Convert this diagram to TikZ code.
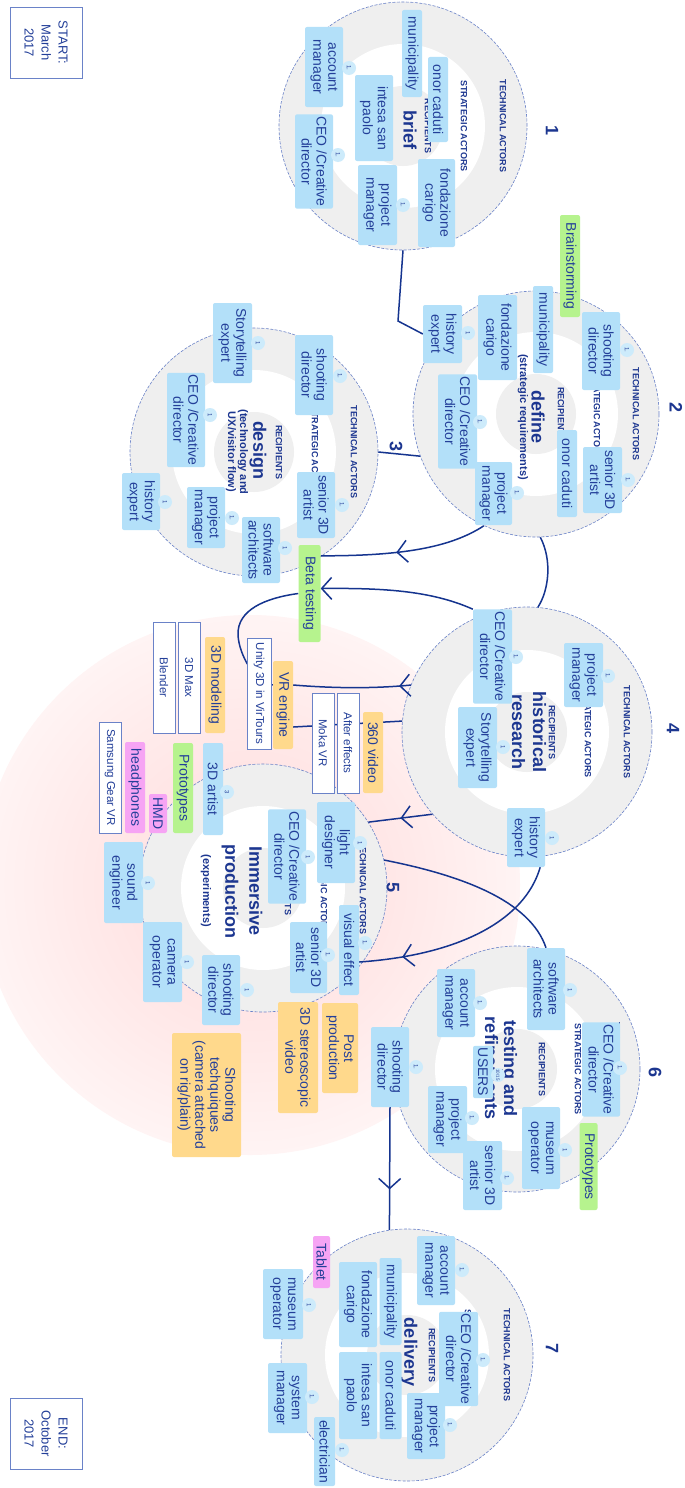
\documentclass[tikz,border=0pt]{standalone}
\usepackage{fontspec}
\setmainfont{Liberation Sans}
\usetikzlibrary{arrows.meta,decorations.markings,calc}
\definecolor{ringgray}{HTML}{EFEFEF}
\definecolor{boxblue}{HTML}{B3E0F9}
\definecolor{badgeblue}{HTML}{CDEBFB}
\definecolor{txtblue}{HTML}{233F99}
\definecolor{titleblue}{HTML}{1C3690}
\definecolor{linkblue}{HTML}{15348F}
\definecolor{rimblue}{HTML}{6A82C8}
\definecolor{greenbox}{HTML}{B6F38E}
\definecolor{orangebox}{HTML}{FFD98C}
\definecolor{pinkbox}{HTML}{F6A4F4}
\definecolor{glowA}{HTML}{FFDADA}
\definecolor{glowB}{HTML}{FFEAEA}
\pgfdeclareradialshading{pinkglow}{\pgfpoint{0bp}{0bp}}{color(0bp)=(glowA);color(16bp)=(glowB);color(35bp)=(white);color(50bp)=(white)}
\pgfdeclarelayer{bg}
\pgfdeclarelayer{conn}
\pgfsetlayers{bg,conn,main}
\newcommand\ringlabels[3]{%
  \node[lab] (#1t) at (#2+100,#3) {TECHNICAL ACTORS};
  \node[lab] (#1s) at (#2+61,#3) {STRATEGIC ACTORS};
  \node[lab] (#1r) at (#2+25,#3) {RECIPIENTS};}
\begin{document}
\begin{tikzpicture}[x=1pt,y=-1pt,
  ring/.style={circle, inner sep=0pt, fill=ringgray, draw=rimblue, line width=0.6pt, dash pattern=on 3pt off 1.5pt, minimum size=#1},
  hole/.style={circle, inner sep=0pt, fill=white, minimum size=164pt},
  core/.style={circle, inner sep=0pt, fill=ringgray, minimum size=80pt},
  lab/.style={rotate=-90, text=titleblue, font=\bfseries\fontsize{9}{10}\selectfont, inner sep=0pt},
  ttl/.style={rotate=-90, text=titleblue, align=center, font=\bfseries\fontsize{18}{21}\selectfont, inner sep=0pt},
  sub/.style={rotate=-90, text=titleblue, align=center, font=\bfseries\fontsize{11}{12}\selectfont, inner sep=0pt},
  abox/.style={rotate=-90, fill=boxblue, rounded corners=2pt, align=center, inner xsep=2pt, inner ysep=2pt, text=txtblue, font=\fontsize{14}{15}\selectfont},
  gbox/.style={abox, fill=greenbox},
  obox/.style={abox, fill=orangebox},
  pbox/.style={abox, fill=pinkbox},
  wbox/.style={abox, fill=white, draw=rimblue, line width=0.8pt, rounded corners=0pt, font=\fontsize{11.5}{13}\selectfont},
  sz/.style 2 args={minimum width=#1pt, minimum height=#2pt},
  badge/.style={circle, fill=badgeblue, minimum size=14pt, inner sep=0pt, rotate=-90, text=txtblue, font=\fontsize{6}{6}\selectfont},
  num/.style={rotate=-90, text=titleblue, font=\bfseries\fontsize{18}{18}\selectfont},
  datebox/.style={rotate=-90, draw=rimblue, fill=white, line width=0.7pt, align=center, text=txtblue, font=\fontsize{13}{17}\selectfont, minimum width=71pt, minimum height=72pt},
  link/.style={draw=linkblue, line width=1.5pt},
  midarrow/.style={postaction={decorate, decoration={markings, mark=at position #1 with {\arrow{Straight Barb[length=10pt,width=22pt]}}}}}
]
\path[use as bounding box] (0,0) rectangle (685,1488);

\begin{pgfonlayer}{bg}
\fill[white] (0,0) rectangle (685,1488);
\shade[shading=pinkglow] (250,885) circle[radius=270];
% circles
\node[ring=248pt] (c1) at (403,126) {};
\node[hole] (c1h) at (c1) {};
\node[core] (c1c) at (c1) {};
\node[ring=246pt] (c2) at (536,414) {};
\node[hole] (c2h) at (c2) {};
\node[core] (c2c) at (c2) {};
\node[ring=248pt] (c3) at (254,452) {};
\node[hole] (c3h) at (c3) {};
\node[core] (c3c) at (c3) {};
\node[ring=250pt] (c4) at (527,732) {};
\node[hole] (c4h) at (c4) {};
\node[core] (c4c) at (c4) {};
\node[ring=248pt] (c5) at (263,888) {};
\node[hole] (c5h) at (c5) {};
\node[core] (c5c) at (c5) {};
\node[ring=246pt] (c6) at (517,1069) {};
\node[hole] (c6h) at (c6) {};
\node[core] (c6c) at (c6) {};
\node[ring=252pt] (c7) at (407,1355) {};
\node[hole] (c7h) at (c7) {};
\node[core] (c7c) at (c7) {};
% ring labels
\ringlabels{c1l}{403}{126}
\ringlabels{c2l}{536}{414}
\ringlabels{c3l}{254}{452}
\ringlabels{c4l}{527}{732}
\ringlabels{c5l}{263}{888}
\ringlabels{c6l}{517}{1069}
\ringlabels{c7l}{407}{1355}
% titles
\node[ttl] (c1title) at (410,130) {brief};
\node[ttl] (c2title) at (538,417) {define};
\node[sub] (c2sub) at (523,417) {(strategic requirements)};
\node[ttl] (c3title) at (258,450) {design};
\node[sub] (c3sub) at (237,452) {(technology and\\UX/visitor flow)};
\node[ttl] (c4title) at (529,732) {historical\\research};
\node[ttl, font=\bfseries\fontsize{18}{24}\selectfont] (c5title) at (242,891) {Immersive\\production};
\node[sub] (c5sub) at (206,891) {(experiments)};
\node[ttl, font=\bfseries\fontsize{18}{19}\selectfont] (c6title) at (501,1068) {testing and\\refinements};
\node[ttl] (c7title) at (409,1352) {delivery};
\end{pgfonlayer}

% dates
\node[datebox] (start) at (46,42.5) {START:\\March\\2017};
\node[datebox] (end) at (46,1433.5) {END:\\October\\2017};

% numbers
\node[num] (k1) at (552,131) {1};
\node[num] (k2) at (676,408) {2};
\node[num] (k3) at (396,447) {3};
\node[num] (k4) at (673,728) {4};
\node[num] (k5) at (393,887) {5};
\node[num] (k6) at (655,1072) {6};
\node[num] (k7) at (552,1348) {7};

% circle 1
\node[abox, sz={87}{20}] (c1mun) at (412,53.5) {municipality};
\node[abox, sz={85}{20}] (c1oc) at (438,99.5) {onor caduti};
\node[abox, sz={80}{38}] (c1am) at (324,67) {account\\manager};
\node[badge] (c1amb) at (349,68) {1.};
\node[abox, sz={86}{38}] (c1isp) at (374,118) {intesa san\\paolo};
\node[abox, sz={93}{38}] (c1ceo) at (314,161.5) {CEO /Creative\\director};
\node[badge] (c1ceob) at (338,155) {1.};
\node[abox, sz={80}{39}] (c1pm) at (377.5,205) {project\\manager};
\node[badge] (c1pmb) at (403,205) {1.};
\node[abox, sz={88}{37}] (c1fc) at (436.5,203) {fondazione\\carigo};

% circle 2
\node[gbox, sz={102}{20}] (bs) at (570,266) {Brainstorming};
\node[abox, sz={78}{38}] (c2sd) at (601,351) {shooting\\director};
\node[badge] (c2sdb) at (627,350) {1.};
\node[abox, sz={87}{20}] (c2mun) at (543,329.5) {municipality};
\node[abox, sz={85}{39}] (c2fc) at (497.5,337.5) {fondazione\\carigo};
\node[abox, sz={58}{39}] (c2he) at (442.5,334) {history\\expert};
\node[badge] (c2heb) at (468,333) {1};
\node[abox, sz={93}{39}] (c2ceo) at (457.5,421.5) {CEO /Creative\\director};
\node[badge] (c2ceob) at (480,422) {1.};
\node[abox, sz={66}{39}] (c2sa) at (602.5,480) {senior 3D\\artist};
\node[badge] (c2sab) at (628,480) {1.};
\node[abox, sz={87}{20}] (c2oc) at (567,473.5) {onor caduti};
\node[abox, sz={63}{37}] (c2pm) at (493.5,493.5) {project\\manager};
\node[badge] (c2pmb) at (517,493) {1.};

% circle 3
\node[abox, sz={80}{39}] (c3se) at (232.5,343) {Storytelling\\expert};
\node[badge] (c3seb) at (258,343) {1};
\node[abox, sz={80}{38}] (c3sd) at (314,375) {shooting\\director};
\node[badge] (c3sdb) at (340,376) {1.};
\node[abox, sz={90}{38}] (c3ceo) at (186,420) {CEO /Creative\\director};
\node[badge] (c3ceob) at (210,415) {1};
\node[abox, sz={66}{38}] (c3sa) at (316,505) {senior 3D\\artist};
\node[badge] (c3sab) at (342,505) {1.};
\node[abox, sz={57}{38}] (c3he) at (141,501.5) {history\\expert};
\node[badge] (c3heb) at (165,502) {1};
\node[abox, sz={61}{38}] (c3pm) at (206,517.5) {project\\manager};
\node[badge] (c3pmb) at (232,518) {1.};
\node[abox, sz={66}{38}] (c3sw) at (261,550) {software\\architects};
\node[badge] (c3swb) at (285,548) {1};
\node[gbox, sz={97}{22}] (bt) at (309.5,593.5) {Beta testing};

% circle 4
\node[abox, sz={64}{39}] (c4pm) at (583.5,675) {project\\manager};
\node[badge] (c4pmb) at (608,676) {1.};
\node[abox, sz={93}{39}] (c4ceo) at (492.5,656.5) {CEO /Creative\\director};
\node[badge] (c4ceob) at (516,657) {1.};
\node[abox, sz={81}{39}] (c4se) at (477.5,747.5) {Storytelling\\expert};
\node[badge] (c4seb) at (503,747) {1};
\node[abox, sz={59}{38}] (c4he) at (526,837.5) {history\\expert};
\node[badge] (c4heb) at (552,838) {1};

% tools around circle 5
\node[obox, sz={96}{20}] (m3d) at (215,685) {3D modeling};
\node[wbox, sz={111}{22}] (mx) at (189,677.5) {3D Max};
\node[wbox, sz={111}{22}] (bl) at (164,677.5) {Blender};
\node[wbox, sz={111}{24}] (un) at (259,693.5) {Unity 3D in VirTours};
\node[obox, sz={88}{20}] (vr) at (283,705) {VR engine};
\node[wbox, sz={100}{22}] (mk) at (323,743) {Moka VR};
\node[wbox, sz={100}{22}] (ae) at (348,743) {After effects};
\node[obox, sz={81}{20}] (v360) at (373,752.5) {360 video};
\node[gbox, sz={90}{20}] (pr5) at (183,788) {Prototypes};
\node[pbox, sz={39}{18}] (hmd) at (158,813.5) {HMD};
\node[pbox, sz={91}{20}] (hp) at (135,787.5) {headphones};
\node[wbox, sz={111}{22}] (sg) at (110,777.5) {Samsung Gear VR};
\node[obox, sz={111}{40}] (s3d) at (298,1057.5) {3D stereoscopic\\video};
\node[obox, sz={90}{36}] (pp) at (340,1048) {Post\\production};
\node[obox, sz={124}{69}] (st) at (206.5,1095) {Shooting\\techquiques\\(camera attached\\on rig/plain)};

% circle 5
\node[abox, sz={92}{20}] (c5a3) at (213,789) {3D artist};
\node[badge] (c5a3b) at (227,792) {3};
\node[abox, sz={81}{38}] (c5ld) at (336,842.5) {light\\designer};
\node[badge] (c5ldb) at (360,843) {1};
\node[abox, sz={93}{38}] (c5ceo) at (287,856.5) {CEO /Creative\\director};
\node[badge] (c5ceob) at (308,857) {1};
\node[abox, sz={81}{39}] (c5se) at (123.5,882.5) {sound\\engineer};
\node[badge] (c5seb) at (148,883) {1};
\node[abox, sz={90}{20}] (c5ve) at (349,950) {visual effect};
\node[badge] (c5veb) at (365,943) {1.};
\node[abox, sz={71}{37}] (c5sa) at (308.5,957.5) {senior 3D\\artist};
\node[badge] (c5sab) at (328,955) {1.};
\node[abox, sz={80}{39}] (c5co) at (162.5,962) {camera\\operator};
\node[badge] (c5cob) at (187,962) {1};
\node[abox, sz={70}{38}] (c5sd) at (221,990) {shooting\\director};
\node[badge] (c5sdb) at (247,990) {1};

% circle 6
\node[abox, sz={50}{20}] (c6us) at (483,1072) {USERS};
\node[badge, font=\fontsize{4.5}{5}\selectfont] (c6usb) at (498,1075) {10/15};
\node[abox, sz={82}{38}] (c6sw) at (546,989) {software\\architects};
\node[badge] (c6swb) at (570,990) {1};
\node[abox, sz={68}{38}] (c6am) at (456,1003) {account\\manager};
\node[badge] (c6amb) at (480,1003) {1.};
\node[abox, sz={91}{38}] (c6ceo) at (601,1069.5) {CEO /Creative\\director};
\node[badge] (c6ceob) at (620,1068) {1.};
\node[abox, sz={80}{38}] (c6sd) at (390,1067) {shooting\\director};
\node[badge] (c6sdb) at (416,1067) {1.};
\node[abox, sz={67}{39}] (c6pm) at (447.5,1119.5) {project\\manager};
\node[badge] (c6pmb) at (472,1118) {1.};
\node[abox, sz={82}{38}] (c6mo) at (541,1148) {museum\\operator};
\node[badge] (c6mob) at (565,1150) {1};
\node[abox, sz={69}{39}] (c6sa) at (482.5,1175.5) {senior 3D\\artist};
\node[badge] (c6sab) at (507,1178) {1.};
\node[gbox, sz={87}{18}] (pr6) at (588.5,1166.5) {Prototypes};

% circle 7
\node[abox, sz={69}{38}] (c7am) at (436,1270.5) {account\\manager};
\node[badge] (c7amb) at (462,1270) {1.};
\node[abox, sz={92}{39}] (c7ceo) at (458.5,1359) {CEO /Creative\\director};
\node[badge] (c7ceob) at (483,1360) {1.};
\node[abox, sz={87}{22}] (c7mun) at (390.5,1301.5) {municipality};
\node[abox, sz={85}{38}] (c7fc) at (358,1304.5) {fondazione\\carigo};
\node[abox, sz={87}{22}] (c7oc) at (390.5,1395.5) {onor caduti};
\node[abox, sz={87}{38}] (c7isp) at (358,1395.5) {intesa san\\paolo};
\node[abox, sz={66}{38}] (c7pm) at (426,1426) {project\\manager};
\node[badge] (c7pmb) at (450,1425) {1.};
\node[pbox, sz={52}{17}] (tab) at (321.5,1262) {Tablet};
\node[abox, sz={70}{40}] (c7mo) at (283,1304) {museum\\operator};
\node[badge] (c7mob) at (309,1305) {1};
\node[abox, sz={70}{39}] (c7sm) at (287.5,1398) {system\\manager};
\node[badge] (c7smb) at (312,1397) {1.};
\node[abox, sz={69}{21}] (c7el) at (324.5,1451.5) {electrician};
\node[badge] (c7elb) at (342,1450) {1.};

% connectors
\begin{pgfonlayer}{conn}
\draw[link] (c1.-90) -- (398,321) -- (c2he.south);
\draw[link] (c3.0) -- (c2.200);
\draw[link, midarrow=0.55] (c2.245) .. controls (450,548) and (400,556) .. ([yshift=-11pt]bt.north west);
\draw[link] (c2.-88) .. controls +(12,23) and +(11,-17) .. (c4.85);
\draw[link, -{Straight Barb[length=10pt,width=22pt]}] (c4ceo.south west) .. controls (430,590) and (380,588) .. ([yshift=5pt]bt.north);
\draw[link] (bt.south) .. controls (265,598) and (237,610) .. (238,635) .. controls (239,655) and (255,683) .. ([yshift=20pt]vr.south);
\draw[link, midarrow=0.1] (c4.158) .. controls (370,689) and (330,688) .. ([yshift=20pt]vr.north);
\draw[link] ([yshift=-22pt]vr.north) -- (c4.175);
\draw[link, midarrow=0.5] (c4.221) -- (c5.32);
\draw[link, midarrow=0.8] ([xshift=-5pt]c4he.north east) .. controls (525,920) and (460,955) .. ([yshift=-12pt]c5ve.north);
\draw[link] (c5.13) .. controls (460,875) and (530,900) .. (c6sw.west);
\draw[link, midarrow=0.67] (c6sd.east) -- (c7.98);
\end{pgfonlayer}
\end{tikzpicture}
\end{document}
